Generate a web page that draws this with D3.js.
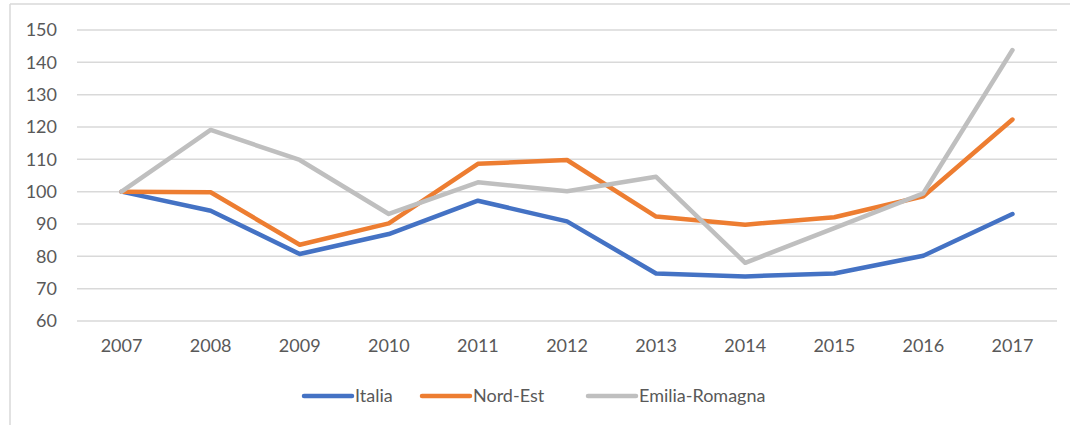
<!DOCTYPE html>
<html>
<head>
<meta charset="utf-8">
<script src="https://cdn.jsdelivr.net/npm/d3@7"></script>
<style>
  body { margin: 0; background: #fff; }
  text { font-family: Lato, "Open Sans", sans-serif; fill: #595959; }
</style>
</head>
<body>
<svg id="chart" width="1070" height="425"></svg>
<script>
var years = ["2007", "2008", "2009", "2010", "2011", "2012", "2013", "2014", "2015", "2016", "2017"];
var yTicks = [60, 70, 80, 90, 100, 110, 120, 130, 140, 150];
var italia = [100, 94.1, 80.7, 86.9, 97.2, 90.8, 74.7, 73.8, 74.7, 80.2, 93.1];
var nordEst = [100, 99.8, 83.6, 90.2, 108.6, 109.8, 92.3, 89.8, 92.1, 98.6, 122.3];
var emilia = [100, 119.1, 109.8, 93.1, 102.9, 100.1, 104.6, 78.0, 88.7, 99.5, 143.8];

var seriesNames = ["Italia", "Nord-Est", "Emilia-Romagna"];
var seriesColors = ["#4472C4", "#ED7D31", "#BFBFBF"];
var seriesValues = [italia, nordEst, emilia];

var svg = d3.select("#chart"),
  plotLeft = 77,
  plotRight = 1057,
  plotTop = 30,
  plotBottom = 321;

// chart frame (only top and left edge visible)
svg.append("line").attr("x1", 10).attr("x2", 1070).attr("y1", 4).attr("y2", 4)
  .attr("stroke", "#D9D9D9").attr("stroke-width", 1.5);
svg.append("line").attr("x1", 10).attr("x2", 10).attr("y1", 4).attr("y2", 425)
  .attr("stroke", "#D9D9D9").attr("stroke-width", 1.5);

var x = d3.scaleBand().domain(years).range([plotLeft, plotRight]);
var y = d3.scaleLinear().domain([60, 150]).range([plotBottom, plotTop]);

// gridlines
svg.append("g").selectAll("line").data(yTicks).enter().append("line")
  .attr("x1", plotLeft).attr("x2", plotRight)
  .attr("y1", function(d) { return y(d); })
  .attr("y2", function(d) { return y(d); })
  .attr("stroke", "#D9D9D9").attr("stroke-width", 1.5);

// y axis labels
var yAxis = svg.append("g").attr("transform", "translate(" + (plotLeft - 20) + ",0)")
  .call(d3.axisLeft(y).tickValues(yTicks).tickSize(0).tickPadding(0));
yAxis.select(".domain").remove();
yAxis.selectAll("text").style("font-size", "18px").style("font-family", "Lato, sans-serif").attr("fill", "#595959");

// x axis labels
var xAxis = svg.append("g").attr("transform", "translate(0," + (plotBottom + 18) + ")")
  .call(d3.axisBottom(x).tickSize(0).tickPadding(0));
xAxis.select(".domain").remove();
xAxis.selectAll("text").style("font-size", "18px").style("font-family", "Lato, sans-serif").attr("fill", "#595959");

var line = d3.line()
  .x(function(d, i) { return x(years[i]) + x.bandwidth() / 2; })
  .y(function(d) { return y(d); });

svg.append("g").selectAll("path").data(seriesValues).enter().append("path")
  .attr("d", line)
  .attr("fill", "none")
  .attr("stroke", function(d, i) { return seriesColors[i]; })
  .attr("stroke-width", 4.5)
  .attr("stroke-linejoin", "round")
  .attr("stroke-linecap", "round");

// legend
var legendX = [304, 422, 588];
var legend = svg.append("g").selectAll("g").data(seriesNames).enter().append("g")
  .attr("transform", function(d, i) { return "translate(" + legendX[i] + ",396)"; });
legend.append("line").attr("x1", 0).attr("x2", 48).attr("y1", 0).attr("y2", 0)
  .attr("stroke", function(d, i) { return seriesColors[i]; })
  .attr("stroke-width", 4.5).attr("stroke-linecap", "round");
legend.append("text").attr("x", 51).attr("y", 0).attr("dy", "0.35em")
  .style("font-size", "18px")
  .text(function(d) { return d; });
</script>
</body>
</html>
